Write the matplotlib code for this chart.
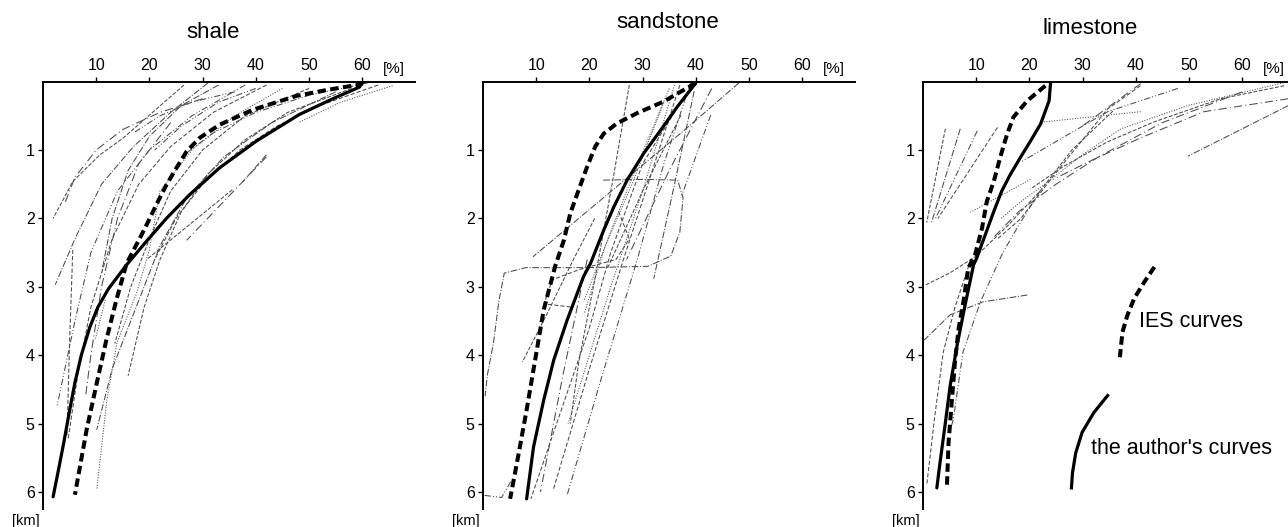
import matplotlib
matplotlib.use("Agg")
import matplotlib.pyplot as plt

plt.rcParams['font.family'] = ['Liberation Sans', 'DejaVu Sans']

# ---- data: porosity [%] vs depth [km] ----
titles = ["shale", "sandstone", "limestone"]
xticks = [10, 20, 30, 40, 50, 60]
yticks = [1, 2, 3, 4, 5, 6]

shale_ies_phi = [60, 59.8, 53.5, 47.6, 39.5, 33.2, 29.5, 27.0, 25.1, 23.2, 21.3, 19.5, 18.2, 15.7, 13.8, 11.9, 10.1, 8.2, 6.0]
shale_ies_z = [0.0, 0.04, 0.12, 0.21, 0.41, 0.63, 0.82, 1.02, 1.26, 1.51, 1.80, 2.09, 2.29, 2.66, 3.19, 3.78, 4.41, 5.09, 6.04]
shale_auth_phi = [60, 59.5, 54.5, 48.2, 40.1, 33.2, 27.6, 23.2, 19.5, 15.7, 12.3, 10.3, 8.8, 7.2, 6.0, 4.9, 3.9, 2.9, 1.9]
shale_auth_z = [0.0, 0.08, 0.25, 0.48, 0.87, 1.26, 1.65, 2.00, 2.33, 2.68, 3.03, 3.30, 3.59, 4.00, 4.40, 4.85, 5.28, 5.68, 6.07]

sand_ies_phi = [40.0, 34.0, 29.0, 25.2, 22.7, 21.1, 19.6, 18.0, 16.4, 15.2, 13.6, 11.4, 9.8, 8.2, 6.7, 5.1]
sand_ies_z = [0.02, 0.29, 0.46, 0.61, 0.76, 0.95, 1.24, 1.58, 1.93, 2.32, 2.69, 3.34, 4.07, 4.80, 5.44, 6.10]
sand_auth_phi = [40.0, 36.5, 33.4, 30.2, 27.1, 24.6, 22.7, 20.2, 18.9, 15.8, 13.3, 11.4, 9.5, 8.2]
sand_auth_z = [0.02, 0.37, 0.71, 1.05, 1.44, 1.83, 2.17, 2.66, 2.85, 3.49, 4.07, 4.66, 5.34, 6.10]

lime_ies_phi = [23.0, 19.6, 17.0, 15.8, 14.5, 13.3, 12.0, 11.1, 9.8, 8.5, 7.6, 6.7, 6.0, 5.4, 4.8, 4.5]
lime_ies_z = [0.06, 0.28, 0.52, 0.77, 1.11, 1.46, 1.75, 2.14, 2.53, 2.73, 3.22, 3.61, 4.10, 4.69, 5.28, 5.91]
lime_auth_phi = [24.0, 23.7, 23.0, 22.1, 20.2, 18.3, 16.4, 14.8, 13.3, 11.7, 10.1, 9.5, 7.9, 6.4, 5.1, 4.2, 3.2, 2.6]
lime_auth_z = [0.0, 0.28, 0.43, 0.62, 0.87, 1.11, 1.36, 1.60, 1.90, 2.24, 2.58, 2.68, 3.27, 3.86, 4.45, 4.99, 5.57, 5.94]

# published curves (thin gray), each a list of (porosity, depth)
shale_thin = [
    [(26.5, 0.05), (20, 0.49), (15, 0.83), (10.7, 1.07), (5.6, 1.46), (1.9, 2.0)],
    [(31, 0.02), (24, 0.45), (17, 0.95), (11, 1.5), (6, 2.3), (2.3, 2.97)],
    [(38, 0.05), (28, 0.5), (20, 1.0), (14, 1.6), (9, 2.5), (6, 3.5), (2.6, 4.76)],
    [(42, 0.05), (32, 0.45), (24, 0.95), (18, 1.5), (13, 2.3), (9, 3.3), (6.5, 4.3), (4.7, 5.24)],
    [(45, 0.1), (36, 0.5), (28, 1.0), (22, 1.6), (20, 2.46), (17.6, 3.09), (13.9, 3.82), (12, 4.66), (10.1, 5.97)],
    [(30, 0.25), (22, 0.45), (15, 0.7), (10, 1.0), (6, 1.4), (4, 1.8)],
    [(50, 0.1), (38, 0.5), (30, 1.0), (24, 1.6), (20, 2.3), (16.5, 3.0), (13.5, 3.83)],
    [(55, 0.15), (43, 0.6), (34, 1.1), (27, 1.7), (22, 2.4), (18, 3.2), (13, 4.2), (10.1, 5.09)],
    [(61, 0.02), (50, 0.2), (40, 0.45), (32, 0.75), (26, 1.1)],
    [(63, 0.05), (52, 0.35), (44, 0.65), (37, 1.0), (30, 1.5), (25, 2.0), (21, 2.6)],
    [(65.7, 0.06), (56, 0.3), (48, 0.6)],
    [(42, 1.1), (27, 2.32)],
    [(35.6, 1.58), (19.5, 2.6)],
    [(42, 1.07), (37.5, 1.47)],
    [(36, 0.15), (28, 0.3), (22, 0.5), (17, 0.75)],
    [(5.6, 2.46), (5.0, 3.8), (4.5, 5.2)],
    [(11.7, 3.19), (9.8, 3.78)],
    [(24, 0.6), (18, 1.2), (14, 2.0), (11, 3.0), (9, 4.0), (8, 4.6)],
    [(58, 0.1), (46, 0.45), (38, 0.85), (31, 1.35), (26, 1.9), (22, 2.6), (19, 3.3), (16, 4.3)],
    [(33, 0.05), (26, 0.35), (20, 0.8), (16, 1.3), (13, 2.0), (11, 2.8)],
    [(40, 0.1), (33, 0.3), (26, 0.65), (21, 1.0)],
]

sand_thin = [
    [(27.5, 0.05), (24.5, 1.4), (21, 2.9), (18, 4.1), (16.4, 5.0)],
    [(48.1, 0.02), (38, 0.7), (28, 1.35), (18, 2.0), (9.4, 2.56)],
    [(39, 0.02), (34, 1.2), (29, 2.6), (22, 4.4), (15.8, 6.05)],
    [(37, 0.05), (31, 1.5), (26.4, 2.6), (20, 4.2), (13.2, 5.97)],
    [(36, 0.05), (30, 1.6), (24, 3.0), (20, 4.0), (16, 5.0)],
    [(19.6, 2.6), (15, 4.3), (10.8, 6.0)],
    [(21, 2.0), (17, 2.6), (12, 3.4), (7.4, 4.1)],
    [(22.6, 1.44), (30, 1.43), (36.6, 1.44), (37.6, 1.7), (37.0, 2.2), (35.3, 2.55), (31, 2.7),
     (20, 2.72), (8, 2.72), (4, 2.8), (3, 3.2), (2, 3.8), (0.8, 4.3), (0.4, 4.6)],
    [(0.3, 6.05), (3.5, 6.08), (5.2, 5.85)],
    [(25.5, 1.9), (27.5, 2.3), (25, 2.6), (18, 2.75), (13, 2.9), (11.5, 3.25), (17, 3.3)],
    [(35, 0.1), (27, 1.6), (19, 3.2)],
    [(43, 0.1), (35, 1.3), (27, 2.6)],
    [(37.2, 0.49), (30, 1.6), (23.4, 2.73)],
    [(39.7, 0.14), (36, 1.5), (32.1, 2.88)],
    [(42.8, 0.49), (37.2, 1.7)],
    [(38, 0.2), (30, 1.2), (24, 2.5), (20, 3.6), (9, 6.1)],
    [(34, 0.3), (28, 1.5), (23, 2.4), (19, 3.4)],
]

lime_thin = [
    [(4.2, 0.69), (0.7, 2.06)],
    [(7.0, 0.69), (1.6, 2.06)],
    [(10.2, 0.72), (2.3, 2.01)],
    [(14.0, 0.67), (2.8, 2.0)],
    [(68.7, 0.0), (49.8, 0.35), (37.2, 0.69), (29.6, 1.09), (23.4, 1.47), (18.3, 1.76), (14.5, 2.01)],
    [(68.7, 0.25), (52.8, 0.44), (40.4, 0.84), (30.9, 1.18), (24.5, 1.43)],
    [(67.9, 0.06), (56, 0.25), (43.4, 0.59), (34.7, 0.88), (26.4, 1.24), (20.2, 1.57)],
    [(68.7, 0.35), (49.8, 1.09)],
    [(47.9, 0.1), (34.7, 0.44), (25.8, 0.84), (18.3, 1.18)],
    [(40.9, 0.06), (34.7, 0.4), (24.5, 1.38), (18.3, 2.01), (14, 2.3)],
    [(40.9, 0.44), (22.6, 0.59)],
    [(40.9, 0.03), (29.6, 0.67)],
    [(35.7, 0.43), (28, 1.0), (22, 1.6), (16, 2.1), (10, 2.55), (5, 2.8), (0.3, 2.98)],
    [(19.6, 3.12), (11.3, 3.22), (5.1, 3.41), (0.2, 3.78)],
    [(22, 1.6), (18, 2.1), (15, 2.5), (10.8, 3.22), (7.5, 3.96), (5.7, 4.94), (4.9, 5.15)],
    [(9, 2.6), (6, 3.3), (3.8, 3.96), (2.2, 4.9), (0.7, 5.9)],
    [(20.2, 1.43), (8.9, 1.91)],
    [(60, 0.15), (45, 0.6), (33, 1.1), (25, 1.5), (18, 1.9), (13, 2.3)],
]

# legend sample curves (inside limestone panel)
legend_ies_phi = [43.5, 41.6, 39.7, 38.4, 37.5, 37.0]
legend_ies_z = [2.71, 2.93, 3.17, 3.42, 3.66, 4.03]
legend_auth_phi = [34.7, 32.1, 29.9, 28.7, 28.1, 27.9]
legend_auth_z = [4.59, 4.84, 5.13, 5.43, 5.72, 5.94]

panels = [
    (shale_ies_phi, shale_ies_z, shale_auth_phi, shale_auth_z, shale_thin),
    (sand_ies_phi, sand_ies_z, sand_auth_phi, sand_auth_z, sand_thin),
    (lime_ies_phi, lime_ies_z, lime_auth_phi, lime_auth_z, lime_thin),
]

W, H = 1288, 527
fig = plt.figure(figsize=(W / 100, H / 100), dpi=100)

lefts = [43, 483, 923]
title_pos = [(213, 33), (668, 23), (1090, 28)]
px_per_pct = 5.32
px_per_km = 68.4
top = 81.6
xmax, zmax = 70, 6.25

thin_styles = ['--', '-.', (0, (6, 2, 1, 2, 1, 2)), (0, (4, 2)), (0, (1, 1.5)), (0, (8, 3, 1, 3))]
ies_dash = (0, (2.1, 1.1))

for i, (ip, iz, ap, az, thin) in enumerate(panels):
    l = lefts[i]
    w = xmax * px_per_pct
    h = zmax * px_per_km
    ax = fig.add_axes([l / W, (H - top - h) / H, w / W, h / H])
    ax.set_xlim(0, xmax)
    ax.set_ylim(zmax, 0)

    for k, curve in enumerate(thin):
        xs = [p[0] for p in curve]
        zs = [p[1] for p in curve]
        ax.plot(xs, zs, color='#4a4a4a', lw=0.75, ls=thin_styles[k % len(thin_styles)])

    ax.plot(ip, iz, color='black', lw=2.9, ls=ies_dash, solid_capstyle='butt')
    ax.plot(ap, az, color='black', lw=2.3, solid_capstyle='round')

    for s in ['right', 'bottom']:
        ax.spines[s].set_visible(False)
    for s in ['left', 'top']:
        ax.spines[s].set_linewidth(1.4)
    ax.xaxis.set_ticks_position('top')
    ax.set_xticks(xticks)
    ax.set_yticks(yticks)
    ax.tick_params(axis='both', labelsize=11.5, length=3.5, width=1.0, direction='out', pad=2.5)
    ax.text(66, -0.19, "[%]", fontsize=11, ha='center', va='center', clip_on=False)
    ax.text(-3.2, 6.42, "[km]", fontsize=10.5, ha='center', va='center', clip_on=False)

    fig.text(title_pos[i][0] / W, 1 - title_pos[i][1] / H, titles[i], fontsize=16,
             ha='center', va='center')

    if i == 2:
        ax.plot(legend_ies_phi, legend_ies_z, color='black', lw=2.9, ls=ies_dash)
        ax.plot(legend_auth_phi, legend_auth_z, color='black', lw=2.3)
        ax.text(40.6, 3.5, "IES curves", fontsize=15.5, va='center', ha='left')
        ax.text(31.5, 5.37, "the author's curves", fontsize=15.5, va='center', ha='left')

fig.savefig("out.png", dpi=100)
